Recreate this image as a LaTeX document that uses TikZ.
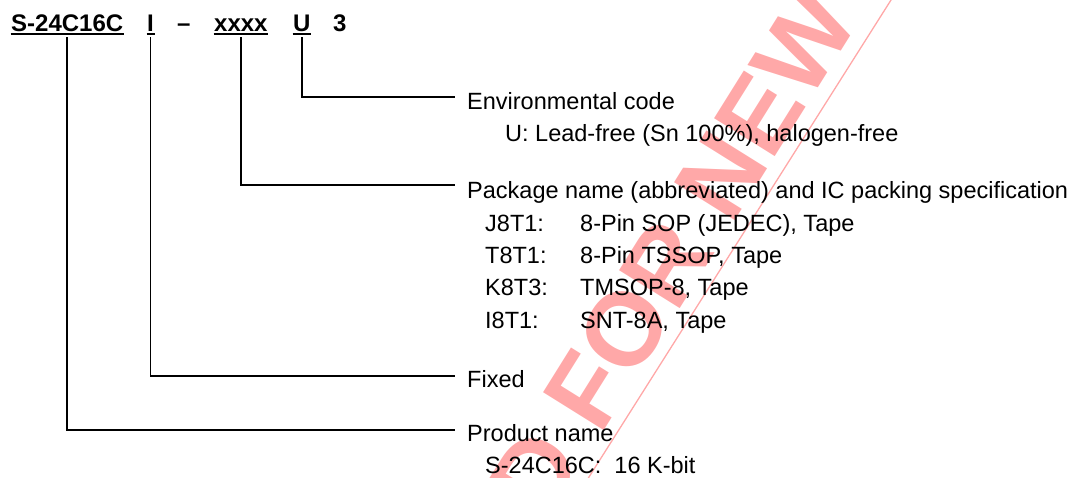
\documentclass[tikz,border=0pt]{standalone}
\usepackage{fontspec}
\setmainfont{Liberation Sans}
\definecolor{wmred}{RGB}{255,168,168}
\tikzset{
  code/.style={font=\fontsize{24}{28}\selectfont\bfseries, inner sep=0pt, anchor=base west},
  desc/.style={font=\fontsize{23.5}{28}\selectfont, inner sep=0pt, anchor=base west},
  uline/.style={line width=1.6pt},
  conn/.style={line width=1.5pt},
}
\begin{document}
\begin{tikzpicture}[x=1pt, y=-1pt, line join=miter]
  \useasboundingbox (0,0) rectangle (1083,477);
  \clip (0,0) rectangle (1083,477);
  % watermark
  \node[font=\fontsize{104}{104}\selectfont\bfseries, text=wmred, inner sep=0pt, rotate=58, anchor=base west] (wm) at (545,525) {D FOR NEW};
  \draw[wmred, line width=1.3pt] (570,507) -- (910,-30);
  % part number
  \node[code] (pn) at (11,31) {S-24C16C};
  \node[code] (fix) at (147,31) {I};
  \node[code] (dash) at (177,31) {--};
  \node[code] (pkg) at (214,31) {xxxx};
  \node[code] (env) at (293,31) {U};
  \node[code] (three) at (333,31) {3};
  \foreach \n in {pn,fix,pkg,env}
    \draw[uline] ([xshift=-0.5pt,yshift=-3pt]\n.base west) -- ([xshift=0.5pt,yshift=-3pt]\n.base east);
  % descriptions
  \node[desc] (envname) at (467,109) {Environmental code};
  \node[desc] (envU) at (505,141) {U: Lead-free (Sn 100\%), halogen-free};
  \node[desc] (pkgname) at (467,198) {Package name (abbreviated) and IC packing specification};
  \node[desc] (j8) at (485,231) {J8T1:};
  \node[desc] (j8d) at (580,231) {8-Pin SOP (JEDEC), Tape};
  \node[desc] (t8) at (485,263) {T8T1:};
  \node[desc] (t8d) at (580,263) {8-Pin TSSOP, Tape};
  \node[desc] (k8) at (485,295.5) {K8T3:};
  \node[desc] (k8d) at (580,295.5) {TMSOP-8, Tape};
  \node[desc] (i8) at (485,328) {I8T1:};
  \node[desc] (i8d) at (580,328) {SNT-8A, Tape};
  \node[desc] (fixname) at (467,387) {Fixed};
  \node[desc] (prodname) at (467,441) {Product name};
  \node[desc] (prod16) at (485,473) {S-24C16C:~~16 K-bit};
  % connectors
  \draw[conn] ([yshift=-6pt]env.south) |- ([xshift=-12pt,yshift=12pt]envname.base west);
  \draw[conn] ([yshift=-6pt]pkg.south) |- ([xshift=-12pt,yshift=13pt]pkgname.base west);
  \draw[conn] ([yshift=-6pt]fix.south) |- ([xshift=-12pt,yshift=11pt]fixname.base west);
  \draw[conn] ([yshift=-6pt]pn.south) |- ([xshift=-12pt,yshift=11pt]prodname.base west);
\end{tikzpicture}
\end{document}
